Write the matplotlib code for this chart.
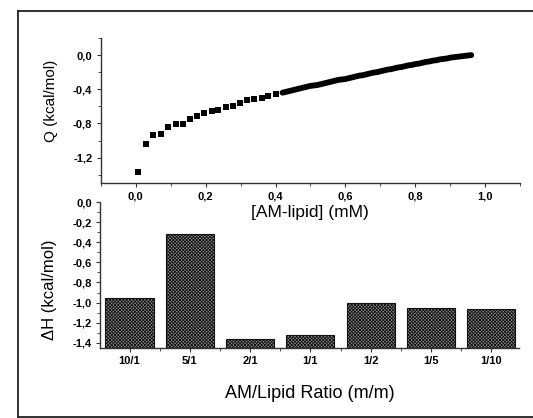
# ITC heat vs concentration (top) and binding enthalpy per ratio (bottom)

import numpy as np
import matplotlib
matplotlib.use("Agg")
import matplotlib.pyplot as plt
from matplotlib.lines import Line2D
from matplotlib.ticker import MultipleLocator, FuncFormatter

plt.rcParams['font.family'] = ['Liberation Sans', 'DejaVu Sans']
plt.rcParams['hatch.linewidth'] = 0.6

# top panel: titration points (sparse early injections, then dense)
conc_early = [0.008, 0.029, 0.049, 0.072, 0.093, 0.114, 0.135, 0.155, 0.176, 0.196,
              0.217, 0.236, 0.258, 0.277, 0.298, 0.319, 0.339, 0.360, 0.379, 0.400]
q_early = [-1.37, -1.04, -0.94, -0.92, -0.84, -0.81, -0.81, -0.75, -0.71, -0.68,
           -0.66, -0.64, -0.61, -0.59, -0.56, -0.53, -0.51, -0.50, -0.48, -0.46]

conc_late = [0.42, 0.43, 0.44, 0.45, 0.46, 0.47, 0.48, 0.49, 0.50, 0.51,
             0.52, 0.53, 0.54, 0.55, 0.56, 0.57, 0.58, 0.59, 0.60, 0.61,
             0.62, 0.63, 0.64, 0.65, 0.66, 0.67, 0.68, 0.69, 0.70, 0.71,
             0.72, 0.73, 0.74, 0.75, 0.76, 0.77, 0.78, 0.79, 0.80, 0.81,
             0.82, 0.83, 0.84, 0.85, 0.86, 0.87, 0.88, 0.89, 0.90, 0.91,
             0.92, 0.93, 0.94, 0.95, 0.96]
q_late = [-0.44, -0.43, -0.42, -0.41, -0.40, -0.39, -0.38, -0.37, -0.36, -0.355,
          -0.35, -0.34, -0.33, -0.32, -0.31, -0.30, -0.29, -0.285, -0.28, -0.27,
          -0.26, -0.25, -0.24, -0.235, -0.225, -0.215, -0.205, -0.20, -0.19, -0.18,
          -0.17, -0.165, -0.155, -0.145, -0.14, -0.13, -0.12, -0.115, -0.105, -0.10,
          -0.09, -0.08, -0.075, -0.065, -0.06, -0.05, -0.045, -0.04, -0.03, -0.025,
          -0.02, -0.015, -0.01, -0.005, 0.0]

# bottom panel: enthalpy per AM/lipid ratio
ratios = ['10/1', '5/1', '2/1', '1/1', '1/2', '1/5', '1/10']
dH = [-0.95, -0.32, -1.36, -1.32, -1.00, -1.05, -1.06]

comma = FuncFormatter(lambda v, p: ('%.1f' % v).replace('.', ','))

fig = plt.figure(figsize=(5.33, 4.18), dpi=100)

# outer frame: left, top and bottom edges only
fx, ftop, fbot = 17.5 / 533, 1 - 10.5 / 418, 1.5 / 418
for xs, ys in (([fx, fx], [fbot, ftop]), ([fx, 1.0], [ftop, ftop]), ([fx, 1.0], [fbot, fbot])):
    fig.add_artist(Line2D(xs, ys, transform=fig.transFigure, lw=1.3, color='#222222'))

ax2 = fig.add_axes([0.1876, 0.168, 0.786, 0.3486])
ax1 = fig.add_axes([0.189, 0.5615, 0.787, 0.3476])
ax1.patch.set_alpha(0)
ax2.patch.set_alpha(0)

for ax in (ax1, ax2):
    for s in ('top', 'right'):
        ax.spines[s].set_visible(False)
    for s in ('left', 'bottom'):
        ax.spines[s].set_linewidth(1.0)
        ax.spines[s].set_color('#333333')
    ax.tick_params(which='major', direction='out', length=3, width=0.8,
                   labelsize=8, pad=3, color='#333333')
    ax.tick_params(which='minor', direction='out', length=2, width=0.6, color='#333333')

# top panel
ax1.plot(conc_early, q_early, 's', color='black', ms=4.3, mew=0)
ax1.plot(conc_late, q_late, '-', color='black', lw=4.2, solid_capstyle='round')
ax1.set_xlim(-0.1, 1.1)
ax1.set_ylim(-1.5, 0.2)
ax1.xaxis.set_major_locator(MultipleLocator(0.2))
ax1.xaxis.set_minor_locator(MultipleLocator(0.1))
ax1.yaxis.set_major_locator(MultipleLocator(0.4))
ax1.yaxis.set_minor_locator(MultipleLocator(0.2))
ax1.xaxis.set_major_formatter(comma)
ax1.yaxis.set_major_formatter(comma)
ax1.set_xlabel('[AM-lipid] (mM)', fontsize=12.5)
ax1.set_ylabel('Q (kcal/mol)', fontsize=11)
ax1.xaxis.set_label_coords(0.498, -0.149)
ax1.yaxis.set_label_coords(-0.103, 0.566)

# bottom panel
base = -1.45
x = np.arange(len(ratios))
ax2.bar(x, np.array(dH) - base, bottom=base, width=0.8, color='#8c8c8c',
        edgecolor='#111111', linewidth=0.8, hatch='xxxxxxxxxx')
ax2.set_xlim(-0.49, 6.46)
ax2.set_ylim(base, 0.0)
ax2.set_xticks(x)
ax2.set_xticklabels(ratios)
ax2.xaxis.set_minor_locator(MultipleLocator(0.5))
ax2.yaxis.set_major_locator(MultipleLocator(0.2))
ax2.yaxis.set_minor_locator(MultipleLocator(0.1))
ax2.yaxis.set_major_formatter(comma)
ax2.set_xlabel('AM/Lipid Ratio (m/m)', fontsize=13)
ax2.set_ylabel('ΔH (kcal/mol)', fontsize=12)
ax2.xaxis.set_label_coords(0.5, -0.256)
ax2.yaxis.set_label_coords(-0.103, 0.396)

for ax in (ax1, ax2):
    for lab in ax.get_xticklabels() + ax.get_yticklabels():
        lab.set_fontweight('bold')

fig.savefig('out.png', dpi=100)
